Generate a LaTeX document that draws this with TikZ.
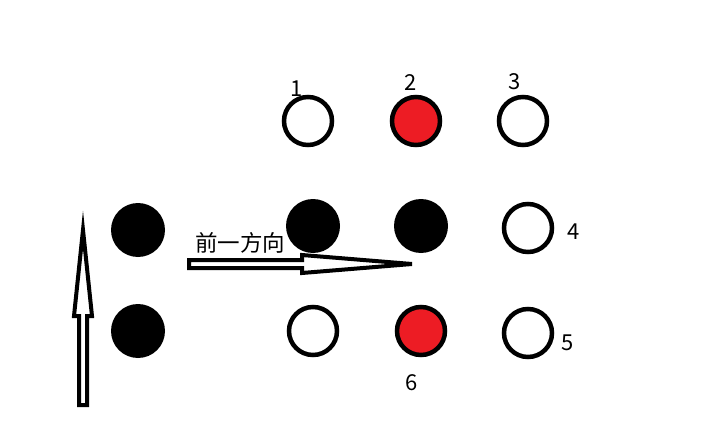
\documentclass[tikz,border=0pt]{standalone}
\usepackage{fontspec}
\setmainfont{Noto Sans CJK SC}
\definecolor{pred}{HTML}{ED1C24}
\begin{document}
\begin{tikzpicture}[x=1pt,y=-1pt,
  ring/.style={circle,draw=black,line width=4.5pt,fill=white,minimum size=48pt,inner sep=0pt},
  redring/.style={ring,fill=pred},
  dot/.style={circle,fill=black,minimum size=54pt,inner sep=0pt},
  num/.style={anchor=base,inner sep=0pt,font=\fontsize{22}{26}\selectfont},
  hollow/.style={draw=black,line width=4pt,fill=white,line join=miter}]
\useasboundingbox[fill=white] (0,0) rectangle (721,436);
% top row
\node[ring] (c1) at (308,121) {};
\node[redring] (c2) at (416,121) {};
\node[ring] (c3) at (523,121) {};
% middle row
\node[dot] (b1) at (138,230) {};
\node[dot] (b2) at (313,226) {};
\node[dot] (b3) at (421,226) {};
\node[ring] (c4) at (528,228) {};
% bottom row
\node[dot] (b4) at (138,331) {};
\node[ring] (c7) at (313,331) {};
\node[redring] (c6) at (421,331) {};
\node[ring] (c5) at (528,333) {};
% labels
\node[num] (l1) at (297,96) {1};
\node[num] (l2) at (411,91) {2};
\node[num] (l3) at (515,89) {3};
\node[num] (l4) at (574,239) {4};
\node[num] (l5) at (568,350) {5};
\node[num] (l6) at (412,390) {6};
\node[anchor=center,inner sep=0pt,font=\fontsize{22.5}{26}\selectfont] (t) at (240,243) {前一方向};
% vertical hollow arrow
\draw[hollow] (79,405) -- (79,316) -- (74,316) -- (83,230) -- (92,316) -- (87,316) -- (87,405) -- cycle;
% horizontal hollow arrow
\draw[hollow] (189,260) -- (302,260) -- (302,255) -- (412,264) -- (302,273) -- (302,268) -- (189,268) -- cycle;
\end{tikzpicture}
\end{document}
